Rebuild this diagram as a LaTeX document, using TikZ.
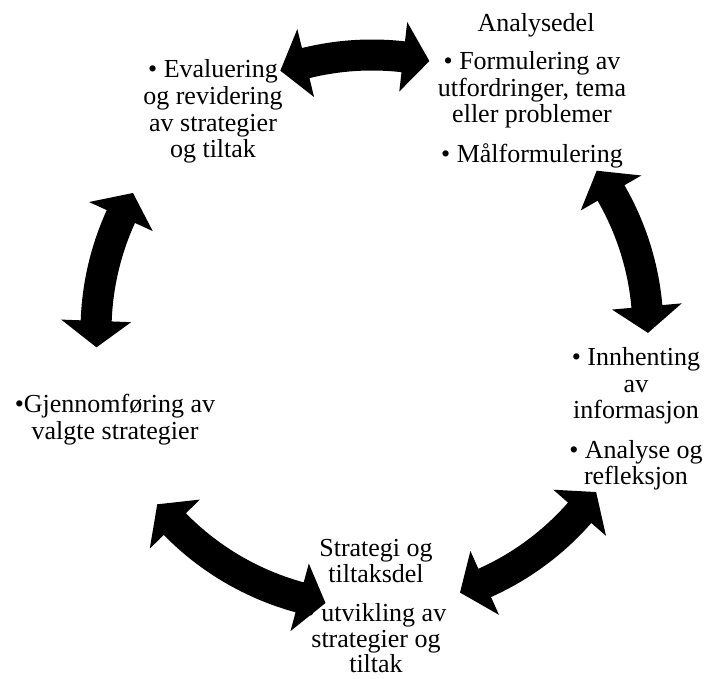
\documentclass[tikz,border=0pt]{standalone}
\usepackage{fontspec}
\setmainfont{Liberation Serif}
\begin{document}
\begin{tikzpicture}[x=1pt,y=1pt,
  txt/.style={anchor=base, inner sep=0pt, font=\fontsize{26}{26.5}\selectfont},
  arrowfill/.style={fill=black, draw=none}]
\useasboundingbox (0,0) rectangle (707,679);
\coordinate (C) at (372,348);
% text blocks
\node[txt] (a0) at (536,647) {Analysedel};
\node[txt] (a1) at (532,609) {• Formulering av};
\node[txt] (a2) at (532,582) {utfordringer, tema};
\node[txt] (a3) at (532,556) {eller problemer};
\node[txt] (a4) at (532,516) {• Målformulering};
\node[txt] (b1) at (636,313) {• Innhenting};
\node[txt] (b2) at (636,286) {av};
\node[txt] (b3) at (636,260) {informasjon};
\node[txt] (b4) at (636,220) {• Analyse og};
\node[txt] (b5) at (636,194) {refleksjon};
\node[txt] (c0) at (376,122) {Strategi og};
\node[txt] (c1) at (376,96) {tiltaksdel};
\node[txt] (c2) at (376,57) {• utvikling av};
\node[txt] (c3) at (376,31) {strategier og};
\node[txt] (c4) at (376,6) {tiltak};
\node[txt] (d1) at (115,266) {•Gjennomføring av};
\node[txt] (d2) at (115,239) {valgte strategier};
\node[txt] (e1) at (213,601) {• Evaluering};
\node[txt] (e2) at (213,574) {og revidering};
\node[txt] (e3) at (213,547) {av strategier};
\node[txt] (e4) at (213,521) {og tiltak};
% curved double arrows
\pgfmathsetmacro\Rm{276}
\pgfmathsetmacro\Rso{\Rm+15.5}
\pgfmathsetmacro\Rsi{\Rm-15.5}
\pgfmathsetmacro\Rho{\Rm+35}
\pgfmathsetmacro\Rhi{\Rm-35}
\pgfmathsetmacro\hd{5.5}
\newcommand\cyclearrow[2]{%
  \pgfmathsetmacro\aA{#1}%
  \pgfmathsetmacro\aB{#2}%
  \pgfmathsetmacro\aAh{#1+\hd}%
  \pgfmathsetmacro\aBh{#2-\hd}%
  \begin{scope}[shift={(C)}]
  \fill[arrowfill] (\aA:\Rm) -- (\aAh:\Rho) -- (\aAh:\Rso)
    arc[start angle=\aAh, end angle=\aBh, radius=\Rso]
    -- (\aBh:\Rho) -- (\aB:\Rm) -- (\aBh:\Rhi) -- (\aBh:\Rsi)
    arc[start angle=\aBh, end angle=\aAh, radius=\Rsi]
    -- (\aAh:\Rhi) -- cycle;
  \end{scope}}
\cyclearrow{78}{109.4}
\cyclearrow{-0.4}{35.5}
\cyclearrow{-71.4}{-35.7}
\cyclearrow{218.9}{260.3}
\cyclearrow{150}{183.4}
\end{tikzpicture}
\end{document}
